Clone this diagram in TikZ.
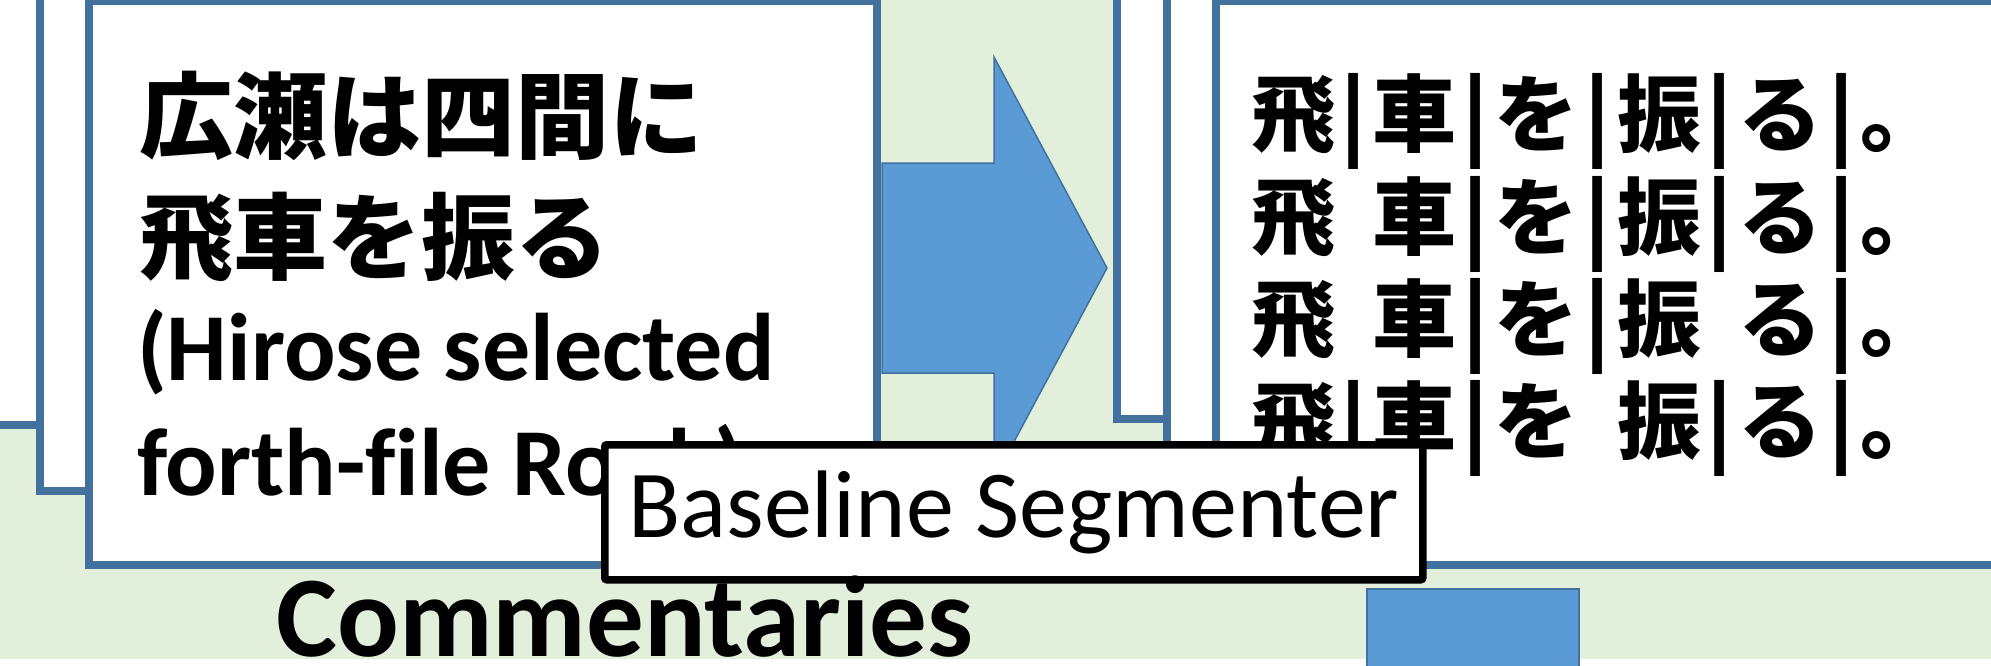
\documentclass[tikz,border=0pt]{standalone}
\usepackage{fontspec}
\setmainfont{Carlito}[Ligatures=CommonOff]
\newfontfamily\jpfont{Noto Sans CJK JP}

\definecolor{bggreen}{RGB}{226,239,218}
\definecolor{frameblue}{RGB}{65,113,156}
\definecolor{fillblue}{RGB}{91,155,213}

% one character cell and one separator cell of the segmented output
\newcommand{\cjkcell}[1]{\makebox[84pt][c]{#1}}
\newcommand{\segbar}{\makebox[38pt][c]{|}}
\newcommand{\seggap}{\makebox[38pt]{}}

\begin{document}
\begin{tikzpicture}[x=1pt,y=-1pt,
  docpage/.style={draw=frameblue, line width=8pt, fill=white, anchor=north west,
    minimum width=788pt, minimum height=563.5pt, inner sep=0pt, outer sep=0pt},
  srcline/.style={anchor=base west, inner sep=0pt, outer sep=0pt},
  jpbig/.style={font=\jpfont\bfseries\fontsize{94}{94}\selectfont},
  enbig/.style={font=\bfseries\fontsize{96}{96}\selectfont},
  segline/.style={anchor=base west, inner sep=0pt, outer sep=0pt,
    font=\jpfont\bfseries\fontsize{84}{84}\selectfont},
  blockarrow/.style={draw=frameblue, line width=1.5pt, fill=fillblue, line join=miter},
  toolbox/.style={draw=black, line width=7.5pt, fill=white, rounded corners=2pt,
    anchor=north west, minimum width=818pt, minimum height=135pt, inner sep=0pt,
    font=\fontsize{96}{96}\selectfont}
]
\useasboundingbox (0,0) rectangle (1991,666);
\clip (0,0) rectangle (1991,666);

% backdrop
\fill[white] (0,0) rectangle (1991,666);
\fill[bggreen] (0,0) rectangle (1991,659);

% stacked source pages
\node[docpage] (srcA) at (-10,-139) {};
\node[docpage] (srcB) at (40,-72.5) {};

% stacked output pages
\node[docpage] (outA) at (1117,-145) {};
\node[docpage] (outB) at (1167,-72.5) {};

% block arrow from source to output
\draw[blockarrow] (882,163) -- (994,163) -- (994,57) -- (1107,268)
  -- (994,479) -- (994,373) -- (882,373) -- cycle;

% front pages
\node[docpage] (src) at (89,1.5) {};
\node[docpage] (out) at (1216,1.5) {};

% source sentence
\node[srcline, jpbig] (s1) at (139,152) {広瀬は四間に};
\node[srcline, jpbig] (s2) at (139,272) {飛車を振る};
\node[srcline, enbig] (s3) at (137,380) {(Hirose selected};
\node[srcline, enbig] (s4) at (137,495) {forth-file Rook)};

% candidate segmentations
\node[segline] (g1) at (1251,146) {\cjkcell{飛}\segbar\cjkcell{車}\segbar\cjkcell{を}\segbar\cjkcell{振}\segbar\cjkcell{る}\segbar\cjkcell{。}};
\node[segline] (g2) at (1251,248) {\cjkcell{飛}\seggap\cjkcell{車}\segbar\cjkcell{を}\segbar\cjkcell{振}\segbar\cjkcell{る}\segbar\cjkcell{。}};
\node[segline] (g3) at (1251,350) {\cjkcell{飛}\seggap\cjkcell{車}\segbar\cjkcell{を}\segbar\cjkcell{振}\seggap\cjkcell{る}\segbar\cjkcell{。}};
\node[segline] (g4) at (1251,452) {\cjkcell{飛}\segbar\cjkcell{車}\segbar\cjkcell{を}\seggap\cjkcell{振}\segbar\cjkcell{る}\segbar\cjkcell{。}};

% downward block below the output
\node[draw=frameblue, line width=1.5pt, fill=fillblue, anchor=north west,
  minimum width=212pt, minimum height=120pt, inner sep=0pt] (down) at (1366,588) {};

% segmenter label
\node[toolbox] (seg) at (601,441) {Baseline Segmenter};

% caption
\node[anchor=base, inner sep=0pt, font=\bfseries\fontsize{115}{115}\selectfont] (comm) at (625,656) {Commentaries};
\end{tikzpicture}
\end{document}
